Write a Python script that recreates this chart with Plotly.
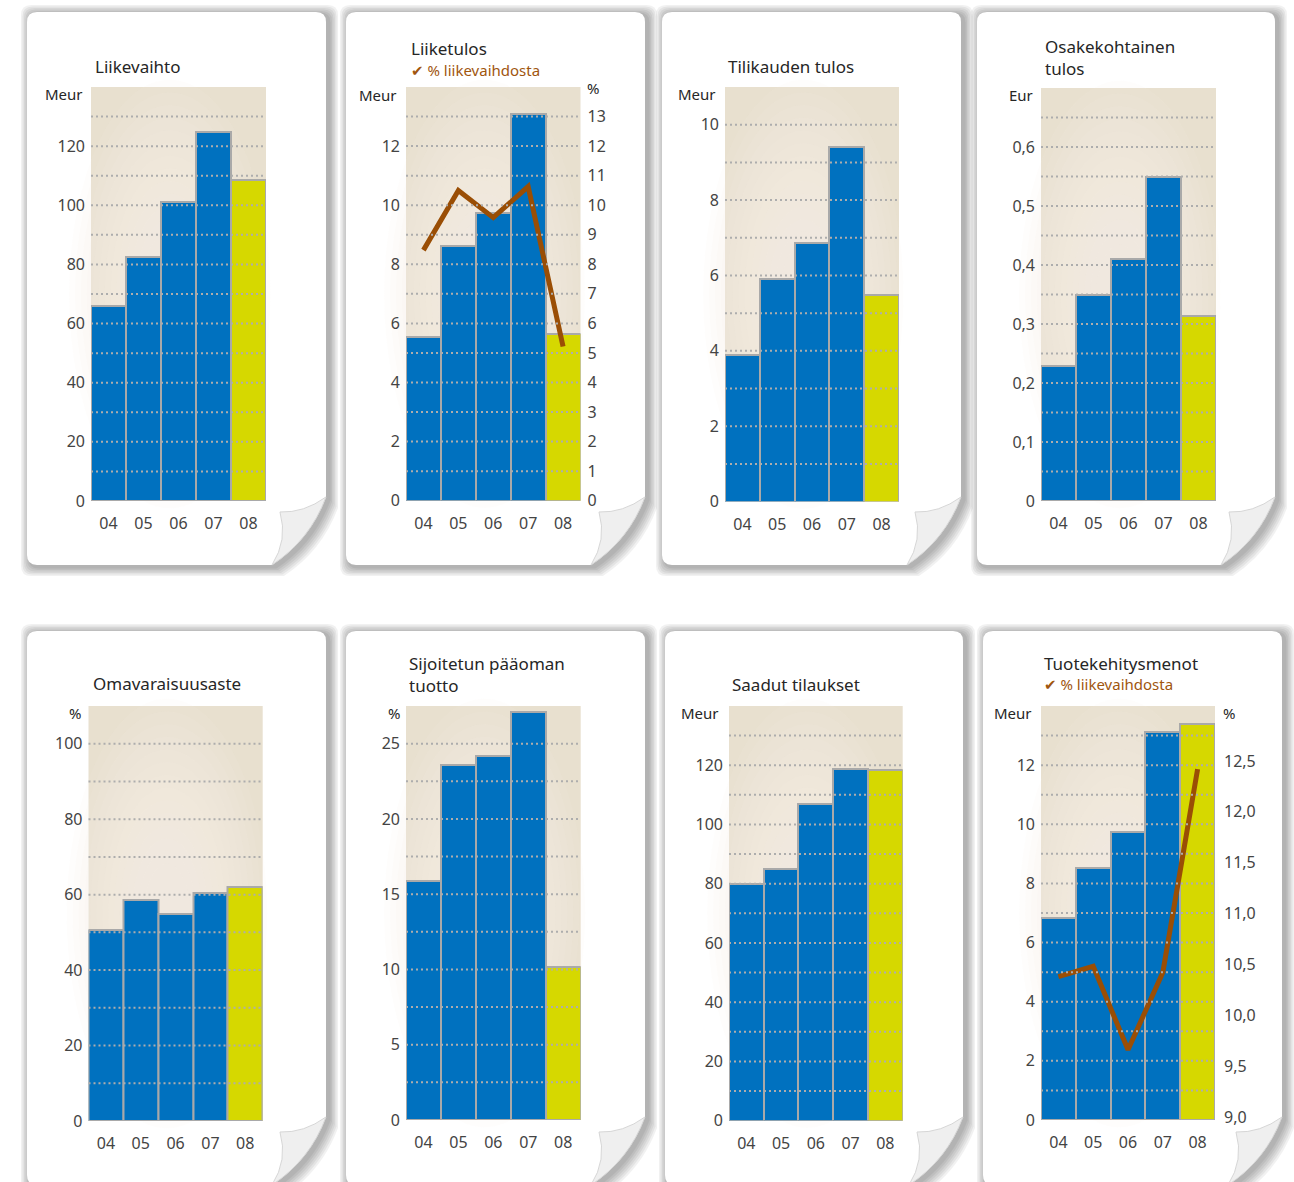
import plotly.graph_objects as go

W, H = 1294, 1182

# ---------------- data ----------------
years = ["04", "05", "06", "07", "08"]

liikevaihto = [66.0, 82.4, 101.0, 124.8, 108.5]
liiketulos = [5.54, 8.61, 9.72, 13.1, 5.65]
liiketulos_pct = [8.48, 10.5, 9.58, 10.63, 5.22]
tilikauden_tulos = [3.9, 5.91, 6.85, 9.41, 5.47]
osakekohtainen_tulos = [0.229, 0.35, 0.41, 0.549, 0.314]
omavaraisuusaste = [50.7, 58.5, 54.8, 60.4, 62.0]
sijoitetun_tuotto = [15.9, 23.6, 24.2, 27.1, 10.17]
saadut_tilaukset = [79.9, 85.0, 106.8, 118.6, 118.3]
tuotekehitys = [6.84, 8.53, 9.74, 13.13, 13.38]
tuotekehitys_pct = [10.38, 10.48, 9.66, 10.42, 12.42]

titles = ["Liikevaihto", "Liiketulos", "Tilikauden tulos", "Osakekohtainen<br>tulos",
          "Omavaraisuusaste", "Sijoitetun pääoman<br>tuotto", "Saadut tilaukset",
          "Tuotekehitysmenot"]
units = ["Meur", "Meur", "Meur", "Eur", "%", "%", "Meur", "Meur"]
legend_text = "✔ % liikevaihdosta"

lbl_p1 = [0, 20, 40, 60, 80, 100, 120]
lbl_p2 = [0, 2, 4, 6, 8, 10, 12]
lbl_p2r = list(range(0, 14))
lbl_p3 = [0, 2, 4, 6, 8, 10]
lbl_p4 = [0, 0.1, 0.2, 0.3, 0.4, 0.5, 0.6]
lbl_p4_text = ["0", "0,1", "0,2", "0,3", "0,4", "0,5", "0,6"]
lbl_p5 = [0, 20, 40, 60, 80, 100]
lbl_p6 = [0, 5, 10, 15, 20, 25]
lbl_p7 = [0, 20, 40, 60, 80, 100, 120]
lbl_p8 = [0, 2, 4, 6, 8, 10, 12]
lbl_p8r = [9.0, 9.5, 10.0, 10.5, 11.0, 11.5, 12.0, 12.5]
lbl_p8r_text = ["9,0", "9,5", "10,0", "10,5", "11,0", "11,5", "12,0", "12,5"]

# ---------------- layout config (pixels) ----------------
BLUE = "#0071bf"
YELLOW = "#d6d800"
EDGE = "#a9a9a9"
LINE = "#9a4e05"
FONT = "Noto Sans, DejaVu Sans, sans-serif"
TICKFONT = dict(size=16, color="#444", family=FONT)

panels = [
    dict(vals=liikevaihto, box=(91, 87, 266, 501), rng=[0, 140], step=10, gmax=130,
         tv=lbl_p1, tt=[str(v) for v in lbl_p1]),
    dict(vals=liiketulos, box=(406, 87, 580.5, 500.7), rng=[0, 14], step=1, gmax=13,
         tv=lbl_p2, tt=[str(v) for v in lbl_p2]),
    dict(vals=tilikauden_tulos, box=(725, 87, 899, 501.6), rng=[0, 11], step=1, gmax=10,
         tv=lbl_p3, tt=[str(v) for v in lbl_p3]),
    dict(vals=osakekohtainen_tulos, box=(1041, 88, 1216, 501), rng=[0, 0.7], step=0.05, gmax=0.65,
         tv=lbl_p4, tt=lbl_p4_text),
    dict(vals=omavaraisuusaste, box=(88.5, 706, 262.7, 1121), rng=[0, 110], step=10, gmax=100,
         tv=lbl_p5, tt=[str(v) for v in lbl_p5]),
    dict(vals=sijoitetun_tuotto, box=(406, 706, 580.7, 1120), rng=[0, 27.5], step=2.5, gmax=25,
         tv=lbl_p6, tt=[str(v) for v in lbl_p6]),
    dict(vals=saadut_tilaukset, box=(729, 706, 902.7, 1120.7), rng=[0, 140], step=10, gmax=130,
         tv=lbl_p7, tt=[str(v) for v in lbl_p7]),
    dict(vals=tuotekehitys, box=(1041, 706, 1215, 1120), rng=[0, 14], step=1, gmax=13,
         tv=lbl_p8, tt=[str(v) for v in lbl_p8]),
]

cards = [(27, 12, 326, 565), (346, 12, 645, 565), (662, 12, 961, 565), (977, 12, 1275, 565),
         (27, 631, 326, 1185), (346, 631, 645, 1185), (665, 631, 963, 1185), (983, 631, 1282, 1185)]

title_pos = [(93, 66), (409, 48), (726, 66), (1043, 58), (91, 683), (407, 674), (730, 684), (1042, 663)]
unit_pos = [(85, 94), (399, 95), (718, 94), (1035, 95), (83, 713), (402, 713), (721, 713), (1034, 713)]


def X(px):
    return px / W


def Y(py):
    return 1 - py / H


def path(pts):
    s = ""
    for cmd, coords in pts:
        s += cmd + " " + " ".join(f"{X(x):.5f},{Y(y):.5f}" for x, y in coords) + " "
    return s + "Z"


def card_path(x0, y0, x1, y1, e=0.0, dx=0.0, dy=0.0, r=10):
    x0, y0, x1, y1 = x0 - e + dx, y0 - e + dy, x1 + e + dx, y1 + e + dy
    return path([
        ("M", [(x0 + r, y0)]),
        ("L", [(x1 - r, y0)]),
        ("Q", [(x1, y0), (x1, y0 + r)]),
        ("L", [(x1, y1 - 68)]),
        ("Q", [(x1 - 16, y1 - 25), (x1 - 54, y1)]),
        ("L", [(x0 + r, y1)]),
        ("Q", [(x0, y1), (x0, y1 - r)]),
        ("L", [(x0, y0 + r)]),
        ("Q", [(x0, y0), (x0 + r, y0)]),
    ])


def flap_path(x1, y1):
    return path([
        ("M", [(x1, y1 - 68)]),
        ("Q", [(x1 - 22, y1 - 52), (x1 - 46, y1 - 53)]),
        ("Q", [(x1 - 38, y1 - 25), (x1 - 54, y1)]),
        ("Q", [(x1 - 16, y1 - 25), (x1, y1 - 68)]),
    ])


fig = go.Figure()
shapes = []
annotations = []

# cards with soft shadow and curled corner
for (x0, y0, x1, y1) in cards:
    for k in range(6, 0, -1):
        shapes.append(dict(type="path", xref="paper", yref="paper",
                           path=card_path(x0, y0, x1, y1, e=k * 1.5, dx=3, dy=2),
                           fillcolor="rgba(0,0,0,0.055)", line=dict(width=0), layer="below"))
    shapes.append(dict(type="path", xref="paper", yref="paper", path=card_path(x0, y0, x1, y1),
                       fillcolor="white", line=dict(width=0), layer="below"))
    shapes.append(dict(type="path", xref="paper", yref="paper", path=flap_path(x1, y1),
                       fillcolor="#efefef", line=dict(width=1, color="#d6d6d6"), layer="below"))

layout_axes = {}
for i, p in enumerate(panels):
    n = i + 1
    xa = "x" if n == 1 else f"x{n}"
    ya = "y" if n == 1 else f"y{n}"
    x0, y0, x1, y1 = p["box"]
    layout_axes["xaxis" if n == 1 else f"xaxis{n}"] = dict(
        domain=[X(x0), X(x1)], anchor=ya, range=[-0.5, 4.5], type="category",
        showgrid=False, zeroline=False, showline=False, ticks="", automargin=False,
        tickfont=TICKFONT, ticklabelstandoff=11, fixedrange=True)
    layout_axes["yaxis" if n == 1 else f"yaxis{n}"] = dict(
        domain=[Y(y1), Y(y0)], anchor=xa, range=p["rng"], showgrid=False, zeroline=False,
        showline=False, ticks="", tickvals=p["tv"], ticktext=p["tt"], automargin=False,
        tickfont=TICKFONT, ticklabelstandoff=5, fixedrange=True)

    fig.add_trace(go.Bar(x=years, y=p["vals"], xaxis=xa, yaxis=ya, width=1,
                         marker=dict(color=[BLUE] * 4 + [YELLOW], line=dict(color=EDGE, width=2)),
                         showlegend=False, hoverinfo="x+y"))

    # plot background with soft radial glow
    shapes.append(dict(type="rect", xref=f"{xa} domain", yref=f"{ya} domain", x0=0, x1=1, y0=0, y1=1,
                       fillcolor="#e8e0cf", line=dict(width=0), layer="below"))
    nglow = 14
    for j in range(nglow):
        s = 1.15 - j * (0.95 / nglow)
        shapes.append(dict(type="circle", xref=f"{xa} domain", yref=f"{ya} domain",
                           x0=0.45 - 0.5 * s, x1=0.45 + 0.5 * s, y0=0.5 - 0.45 * s, y1=0.5 + 0.45 * s,
                           fillcolor="#f5f1ea", opacity=0.12, line=dict(width=0), layer="below"))

    # dotted gridlines drawn over the bars
    k = 1
    while p["step"] * k <= p["gmax"] + 1e-9:
        v = p["step"] * k
        shapes.append(dict(type="line", xref=f"{xa} domain", x0=0, x1=1, yref=ya, y0=v, y1=v,
                           line=dict(color="#adadad", width=2, dash="2px,3px"), layer="above"))
        k += 1

    tx, ty = title_pos[i]
    annotations.append(dict(text=titles[i], x=X(tx), y=Y(ty), xref="paper", yref="paper",
                            xanchor="left", yanchor="middle", align="left", showarrow=False,
                            font=dict(size=17, color="#262626", family=FONT)))
    ux, uy = unit_pos[i]
    annotations.append(dict(text=units[i], x=X(ux), y=Y(uy), xref="paper", yref="paper",
                            xanchor="right", yanchor="middle", showarrow=False,
                            font=dict(size=15, color="#262626", family=FONT)))

# secondary % axes
layout_axes["yaxis9"] = dict(overlaying="y2", side="right", anchor="x2", range=[0, 14],
                             showgrid=False, zeroline=False, showline=False, ticks="", automargin=False,
                             tickvals=lbl_p2r, ticktext=[str(v) for v in lbl_p2r],
                             tickfont=TICKFONT, ticklabelstandoff=6, fixedrange=True)
layout_axes["yaxis10"] = dict(overlaying="y8", side="right", anchor="x8", range=[8.97, 13.04],
                              showgrid=False, zeroline=False, showline=False, ticks="", automargin=False,
                              tickvals=lbl_p8r, ticktext=lbl_p8r_text,
                              tickfont=TICKFONT, ticklabelstandoff=8, fixedrange=True)

fig.add_trace(go.Scatter(x=years, y=liiketulos_pct, xaxis="x2", yaxis="y9", mode="lines",
                         line=dict(color=LINE, width=5), showlegend=False))
fig.add_trace(go.Scatter(x=years, y=tuotekehitys_pct, xaxis="x8", yaxis="y10", mode="lines",
                         line=dict(color=LINE, width=5), showlegend=False))

for (lx, ly) in [(409, 70), (1042, 684)]:
    annotations.append(dict(text=legend_text, x=X(lx), y=Y(ly), xref="paper", yref="paper",
                            xanchor="left", yanchor="middle", showarrow=False,
                            font=dict(size=15, color="#a0560f", family=FONT)))
for (ux, uy) in [(585, 88), (1221, 713)]:
    annotations.append(dict(text="%", x=X(ux), y=Y(uy), xref="paper", yref="paper",
                            xanchor="left", yanchor="middle", showarrow=False,
                            font=dict(size=15, color="#262626", family=FONT)))

fig.update_layout(
    width=W, height=H, margin=dict(l=0, r=0, t=0, b=0, pad=0, autoexpand=False),
    paper_bgcolor="white", plot_bgcolor="rgba(0,0,0,0)",
    bargap=0, showlegend=False, shapes=shapes, annotations=annotations,
    font=dict(family=FONT), **layout_axes,
)

fig.write_html("out.html", config=dict(displayModeBar=False),
               post_script="document.documentElement.style.margin='0px';document.body.style.margin='0px';")
